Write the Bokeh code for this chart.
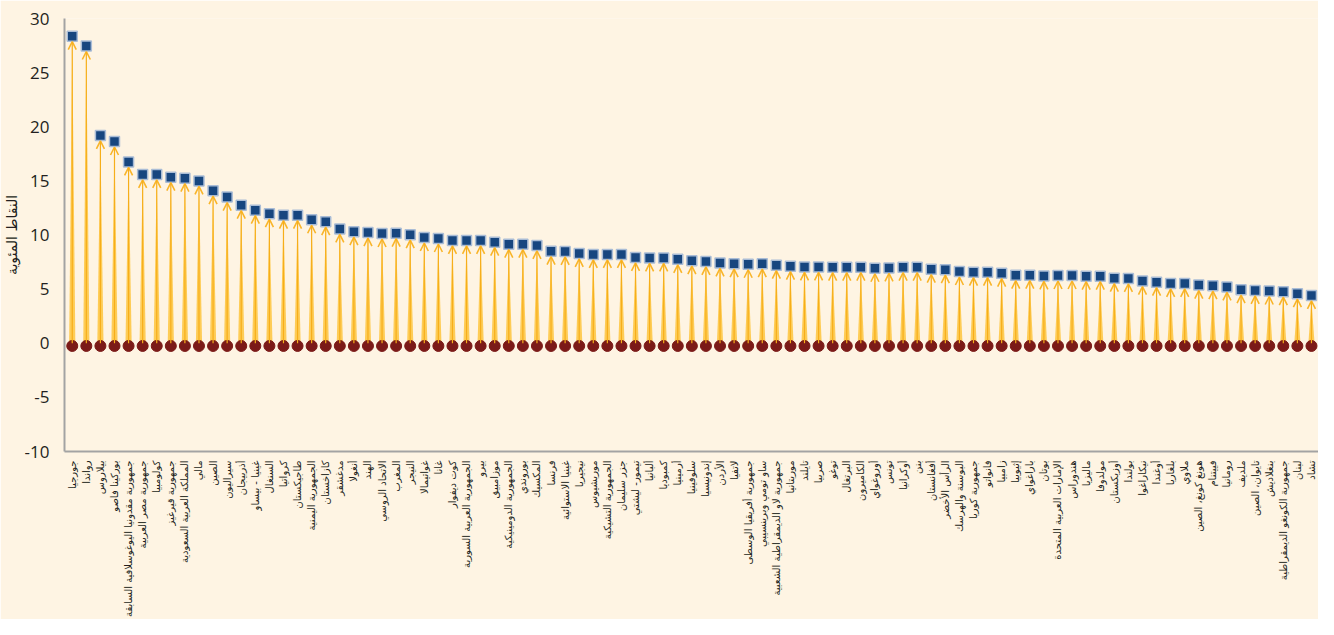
import math
from bokeh.plotting import figure
from bokeh.models import (ColumnDataSource, Range1d, FixedTicker, Arrow, OpenHead)
from bokeh.embed import file_html
from bokeh.resources import INLINE

countries = [
    "جورجيا", "رواندا", "بيلاروس", "بوركينا فاصو", "جمهورية مقدونيا اليوغوسلافية السابقة",
    "جمهورية مصر العربية", "كولومبيا", "جمهورية قيرغيز", "المملكة العربية السعودية", "مالي",
    "الصين", "سيراليون", "أذربيجان", "غينيا - بيساو", "السنغال",
    "كرواتيا", "طاجيكستان", "الجمهورية اليمنية", "كازاخستان", "مدغشقر",
    "أنغولا", "الهند", "الاتحاد الروسي", "المغرب", "النيجر",
    "غواتيمالا", "غانا", "كوت ديفوار", "الجمهورية العربية السورية", "بيرو",
    "موزامبيق", "الجمهورية الدومينيكية", "بوروندي", "المكسيك", "فرنسا",
    "غينيا الاستوائية", "نيجيريا", "موريشيوس", "الجمهورية التشيكية", "جزر سليمان",
    "تيمور- ليشتي", "ألبانيا", "كمبوديا", "أرمينيا", "سلوفينيا",
    "إندونيسيا", "الأردن", "لاتفيا", "جمهورية أفريقيا الوسطى", "ساو تومي وبرينسيبي",
    "جمهورية لاو الديمقراطية الشعبية", "موريتانيا", "تايلند", "صربيا", "توغو",
    "البرتغال", "الكاميرون", "أوروغواي", "تونس", "أوكرانيا",
    "بنن", "أفغانستان", "الرأس الأخضر", "البوسنة والهرسك", "جمهورية كوريا",
    "فانواتو", "زامبيا", "إثيوبيا", "باراغواي", "بوتان",
    "الإمارات العربية المتحدة", "هندوراس", "ماليزيا", "مولدوفا", "أوزبكستان",
    "بولندا", "نيكاراغوا", "أوغندا", "بلغاريا", "ملاوي",
    "هونغ كونغ، الصين", "فييتنام", "رومانيا", "ملديف", "تايوان، الصين",
    "بنغلاديش", "جمهورية الكونغو الديمقراطية", "لبنان", "تشاد",
]

end_values = [
    28.36, 27.45, 19.20, 18.63, 16.74, 15.60, 15.60, 15.34, 15.25, 15.00,
    14.09, 13.50, 12.75, 12.29, 11.96, 11.83, 11.83, 11.40, 11.22, 10.55,
    10.31, 10.22, 10.13, 10.16, 10.03, 9.76, 9.67, 9.49, 9.49, 9.49,
    9.33, 9.15, 9.15, 9.03, 8.51, 8.48, 8.30, 8.20, 8.20, 8.20,
    7.93, 7.87, 7.87, 7.75, 7.62, 7.56, 7.41, 7.35, 7.29, 7.35,
    7.20, 7.11, 7.04, 7.04, 7.03, 7.02, 7.02, 6.92, 6.95, 7.02,
    7.02, 6.83, 6.80, 6.62, 6.56, 6.56, 6.47, 6.29, 6.29, 6.22,
    6.25, 6.25, 6.19, 6.19, 6.01, 5.98, 5.74, 5.64, 5.52, 5.52,
    5.37, 5.31, 5.19, 4.94, 4.88, 4.82, 4.76, 4.57, 4.42,
]

start_value = -0.25
y_ticks = [-10, -5, 0, 5, 10, 15, 20, 25, 30]
y_tick_labels = ["-10", "-5", "0", "5", "10", "15", "20", "25", "30"]
y_label = "النقاط المئوية"

BG = "#FEF4E3"
BLUE = "#17467F"
RED = "#7B1A18"
AXIS = "#A3A3A3"

xs = list(range(1, len(countries) + 1))
tips = [v - 0.5 for v in end_values]

src = ColumnDataSource(dict(x=xs, end=end_values, tip=tips,
                            start=[start_value] * len(xs),
                            zero=[0] * len(xs)))

p = figure(width=1318, height=619, output_backend="svg", toolbar_location=None,
           x_range=Range1d(0.45, 89.5), y_range=Range1d(-10, 30),
           background_fill_color=BG, border_fill_color=BG,
           min_border_left=62, min_border_right=0, min_border_top=18,
           min_border_bottom=164)
p.outline_line_color = None
p.grid.visible = False

# tapered wedges
half = 0.22
wx = [[x - half, x + half, x] for x in xs]
wy = [[0, 0, t] for t in tips]
p.patches(wx, wy, fill_color="#FEC232", fill_alpha=0.8, line_color=None)

# shaft + open chevron head
arrows = Arrow(end=OpenHead(size=8, line_color="#F9B52A", line_width=1.6),
               x_start="x", y_start="zero", x_end="x", y_end="tip",
               line_color="#F6AE1A", line_width=1.2, source=src)
p.add_layout(arrows)

p.scatter("x", "start", source=src, marker="circle", size=11,
          fill_color=RED, line_color=RED)
p.scatter("x", "end", source=src, marker="square", size=10,
          fill_color=BLUE, line_color="#A9BCD6", line_width=1.5)

# axes
p.yaxis.ticker = FixedTicker(ticks=y_ticks)
p.yaxis.major_label_overrides = {t: s for t, s in zip(y_ticks, y_tick_labels)}
p.yaxis.major_label_text_font = "Open Sans"
p.yaxis.major_label_text_font_size = "17px"
p.yaxis.major_label_text_color = "#231F20"
p.yaxis.major_tick_line_color = None
p.yaxis.minor_tick_line_color = None
p.yaxis.axis_line_color = AXIS
p.yaxis.axis_line_width = 2
p.yaxis.major_label_standoff = 9
p.yaxis.axis_label = y_label
p.yaxis.axis_label_text_font = "DejaVu Sans"
p.yaxis.axis_label_text_font_size = "14px"
p.yaxis.axis_label_text_font_style = "normal"
p.yaxis.axis_label_text_color = "#231F20"
p.yaxis.axis_label_standoff = 2

p.xaxis.ticker = FixedTicker(ticks=xs)
p.xaxis.major_label_overrides = {x: c for x, c in zip(xs, countries)}
p.xaxis.major_label_orientation = math.pi / 2
p.xaxis.major_label_text_font = "DejaVu Sans"
p.xaxis.major_label_text_font_size = "10px"
p.xaxis.major_label_text_color = "#231F20"
p.xaxis.major_tick_line_color = None
p.xaxis.minor_tick_line_color = None
p.xaxis.axis_line_color = AXIS
p.xaxis.axis_line_width = 2
p.xaxis.major_label_standoff = 3

open("out.html", "w").write(file_html(p, INLINE))
